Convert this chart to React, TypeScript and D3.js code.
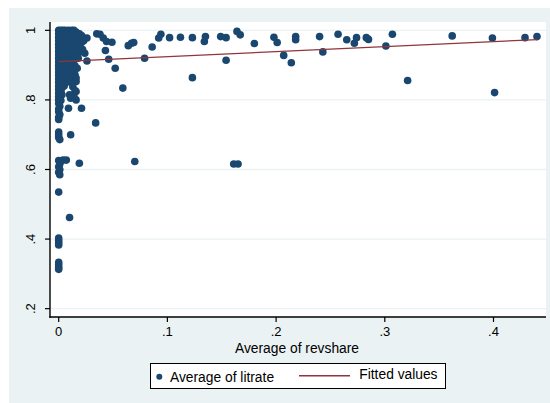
import React from 'react';
import * as d3 from 'd3';

// Observations as [revshare, litrate], densely packed near zero revenue share
const nearZero: [number, number][] = [
  [0, 1], [0.002, 1], [0.004, 1], [0.006, 1], [0.009, 1], [0.012, 1], [0.014, 1],
  [0.001, 0.995], [0.005, 0.995], [0.008, 0.995], [0.011, 0.995], [0.016, 0.995],
  [0, 0.99], [0.003, 0.99], [0.007, 0.99], [0.01, 0.99], [0.013, 0.99], [0.017, 0.99], [0.019, 0.99],
  [0.002, 0.985], [0.006, 0.985], [0.015, 0.985], [0.021, 0.985],
  [0, 0.98], [0.004, 0.98], [0.008, 0.98], [0.012, 0.98], [0.018, 0.98], [0.022, 0.98], [0.026, 0.978],
  [0.001, 0.975], [0.01, 0.975], [0.014, 0.975], [0.02, 0.975],
  [0, 0.97], [0.003, 0.97], [0.006, 0.97], [0.009, 0.97], [0.016, 0.97], [0.019, 0.97], [0.023, 0.97],
  [0.002, 0.965], [0.012, 0.965], [0.021, 0.965],
  [0, 0.96], [0.005, 0.96], [0.008, 0.96], [0.014, 0.96], [0.017, 0.96],
  [0.003, 0.955], [0.011, 0.955], [0.019, 0.955],
  [0, 0.95], [0.006, 0.95], [0.009, 0.95], [0.013, 0.95], [0.016, 0.95],
  [0.002, 0.945], [0.004, 0.945], [0.018, 0.945], [0.022, 0.945],
  [0, 0.94], [0.007, 0.94], [0.011, 0.94], [0.015, 0.94],
  [0.003, 0.935], [0.018, 0.935], [0.024, 0.934],
  [0, 0.93], [0.005, 0.93], [0.009, 0.93], [0.013, 0.93],
  [0.002, 0.925], [0.011, 0.925], [0.016, 0.925],
  [0, 0.92], [0.007, 0.92], [0.018, 0.92], [0.026, 0.912],
  [0.004, 0.915], [0.01, 0.915], [0.014, 0.915],
  [0, 0.91], [0.002, 0.91], [0.008, 0.91],
  [0.005, 0.905], [0.012, 0.905],
  [0, 0.9], [0.003, 0.9], [0.009, 0.9], [0.015, 0.898],
  [0.001, 0.895], [0.006, 0.895], [0.017, 0.891],
  [0, 0.89], [0.004, 0.89], [0.011, 0.89],
  [0.002, 0.885], [0.008, 0.885],
  [0, 0.88], [0.005, 0.88], [0.013, 0.88],
  [0.003, 0.875], [0.01, 0.875], [0.015, 0.872],
  [0, 0.87], [0.007, 0.87],
  [0.002, 0.865], [0.014, 0.865], [0.016, 0.863],
  [0, 0.86], [0.005, 0.86], [0.009, 0.86],
  [0.003, 0.855], [0.016, 0.853],
  [0, 0.85], [0.007, 0.85], [0.012, 0.85],
  [0.002, 0.845],
  [0, 0.84], [0.005, 0.84], [0.013, 0.838],
  [0.003, 0.835],
  [0, 0.83], [0.015, 0.827],
  [0.002, 0.825], [0.016, 0.824],
  [0, 0.82], [0.01, 0.815],
  [0.003, 0.815], [0.012, 0.81],
  [0, 0.81], [0.014, 0.81],
  [0.001, 0.805], [0.011, 0.805],
  [0, 0.8], [0.016, 0.8], [0.002, 0.798],
  [0, 0.79], [0.001, 0.782], [0, 0.774], [0, 0.766], [0.001, 0.758], [0, 0.75], [0, 0.744],
  [0.009, 0.776], [0.021, 0.776],
  [0, 0.708], [0, 0.7], [0, 0.692], [0.001, 0.686], [0.011, 0.7],
  [0, 0.626], [0.002, 0.624], [0.004, 0.627], [0.007, 0.627], [0.001, 0.616], [0.019, 0.618],
  [0, 0.608], [0.001, 0.6], [0, 0.592], [0.001, 0.585],
  [0, 0.535], [0.01, 0.462],
  [0, 0.403], [0, 0.396], [0, 0.389], [0, 0.383],
  [0, 0.333], [0, 0.326], [0, 0.319], [0, 0.313],
];

// Observations with larger revenue shares
const spread: [number, number][] = [
  [0.035, 0.99], [0.038, 0.989], [0.041, 0.978], [0.044, 0.968], [0.049, 0.966],
  [0.043, 0.942], [0.046, 0.917], [0.052, 0.891], [0.034, 0.734], [0.059, 0.834],
  [0.064, 0.956], [0.067, 0.963], [0.069, 0.965], [0.07, 0.623],
  [0.079, 0.92], [0.086, 0.952], [0.092, 0.978], [0.094, 0.989],
  [0.102, 0.979], [0.112, 0.98], [0.123, 0.979], [0.123, 0.864],
  [0.135, 0.982], [0.134, 0.968], [0.149, 0.982], [0.154, 0.979], [0.154, 0.914],
  [0.164, 0.997], [0.167, 0.987], [0.161, 0.616], [0.165, 0.616],
  [0.18, 0.962], [0.198, 0.98], [0.201, 0.965], [0.207, 0.928], [0.214, 0.907],
  [0.218, 0.982], [0.218, 0.973], [0.24, 0.982], [0.243, 0.938],
  [0.257, 0.989], [0.265, 0.973], [0.272, 0.963], [0.274, 0.979],
  [0.283, 0.979], [0.285, 0.974], [0.301, 0.955], [0.307, 0.989],
  [0.321, 0.856], [0.362, 0.984], [0.399, 0.978], [0.401, 0.821],
  [0.429, 0.979], [0.44, 0.982],
];

// Linear fit endpoints
const fitRevshare = [0, 0.4405];
const fitLitrate = [0.91, 0.9735];

const xTicks = [0, 0.1, 0.2, 0.3, 0.4];
const yTicks = [0.2, 0.4, 0.6, 0.8, 1];

const xTitle = 'Average of revshare';
const legendLabels = ['Average of litrate', 'Fitted values'];

const NAVY = '#1A476F';
const MAROON = '#90353B';
const BG = '#EAF2F3';
const FONT = '"Liberation Sans", Arial, Helvetica, sans-serif';

const fmt = (v: number) => {
  if (v === 0) return '0';
  const s = d3.format('.1f')(v);
  return s.endsWith('.0') ? s.slice(0, -2) : s.replace(/^0/, '');
};

export default function App() {
  const left = 50, right = 546, top = 22, bottom = 317;
  const x = d3.scaleLinear().domain([-0.008, 0.4483]).range([left, right]);
  const y = d3.scaleLinear().domain([0.176, 1.024]).range([bottom, top]);

  const points = [...nearZero, ...spread];
  const fitLine = d3
    .line<number>()
    .x((_, i) => x(fitRevshare[i]))
    .y((d) => y(d))(fitLitrate);

  return (
    <svg
      width={550}
      height={403}
      style={{ position: 'absolute', left: 0, top: 0 }}
      fontFamily={FONT}
    >
      <rect x={9} y={8} width={541} height={395} fill={BG} />
      <rect x={left} y={top} width={right - left} height={bottom - top} fill="#fff" />

      {yTicks.map((t) => (
        <line key={'g' + t} x1={left} x2={right} y1={y(t)} y2={y(t)} stroke={BG} strokeWidth={1.4} />
      ))}

      {points.map((p, i) => (
        <circle key={i} cx={x(p[0])} cy={y(p[1])} r={3.8} fill={NAVY} />
      ))}

      <path d={fitLine ?? ''} fill="none" stroke={MAROON} strokeWidth={1.3} />

      {/* y axis */}
      <line x1={left} x2={left} y1={top} y2={bottom + 0.7} stroke="#000" strokeWidth={1.4} />
      {yTicks.map((t) => (
        <g key={'y' + t}>
          <line x1={left - 5} x2={left} y1={y(t)} y2={y(t)} stroke="#000" strokeWidth={1.2} />
          <text
            transform={`translate(${34.5},${y(t)}) rotate(-90)`}
            textAnchor="middle"
            fontSize={13}
            fill="#000"
          >
            {fmt(t)}
          </text>
        </g>
      ))}

      {/* x axis */}
      <line x1={left - 0.7} x2={right} y1={bottom} y2={bottom} stroke="#000" strokeWidth={1.4} />
      {xTicks.map((t) => (
        <g key={'x' + t}>
          <line x1={x(t)} x2={x(t)} y1={bottom} y2={bottom + 5} stroke="#000" strokeWidth={1.2} />
          <text x={x(t)} y={335.5} textAnchor="middle" fontSize={13} fill="#000">
            {fmt(t)}
          </text>
        </g>
      ))}
      <text x={297} y={352.8} textAnchor="middle" fontSize={13.8} fill="#000">
        {xTitle}
      </text>

      {/* legend */}
      <rect x={150.5} y={363.5} width={295} height={25} fill="#fff" stroke="#000" strokeWidth={1} />
      <circle cx={159.3} cy={376.7} r={3} fill={NAVY} />
      <text x={170} y={381.5} fontSize={13.8} fill="#000">
        {legendLabels[0]}
      </text>
      <line x1={299} x2={350} y1={375.7} y2={375.7} stroke={MAROON} strokeWidth={1.5} />
      <text x={359.3} y={379} fontSize={13.8} fill="#000">
        {legendLabels[1]}
      </text>
    </svg>
  );
}
